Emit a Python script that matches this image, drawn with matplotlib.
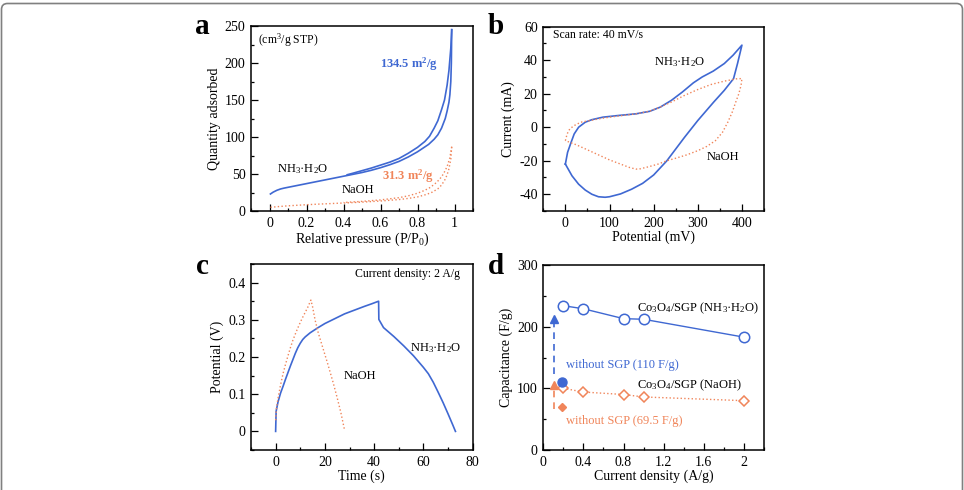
import matplotlib
matplotlib.use("Agg")
import matplotlib.pyplot as plt
from matplotlib.ticker import MultipleLocator, FormatStrFormatter
from matplotlib.patches import PathPatch
from matplotlib.path import Path

plt.rcParams['font.family'] = ['Liberation Serif', 'DejaVu Serif']
plt.rcParams['mathtext.fontset'] = 'custom'
plt.rcParams['mathtext.rm'] = 'Liberation Serif'
plt.rcParams['mathtext.it'] = 'Liberation Serif:italic'
plt.rcParams['mathtext.bf'] = 'Liberation Serif:bold'
plt.rcParams['axes.unicode_minus'] = True

BLUE = '#3f68d2'
ORANGE = '#f0855a'

# ---------------- data: panel a (isotherms) ----------------
a_nh3_ads_p = [0.005, 0.02, 0.04, 0.06, 0.08, 0.1, 0.15, 0.2, 0.25, 0.3, 0.35, 0.4, 0.45, 0.5, 0.55, 0.6, 0.65,
               0.7, 0.75, 0.8, 0.83, 0.86, 0.89, 0.91, 0.93, 0.95, 0.96, 0.97, 0.975, 0.98, 0.983, 0.985]
a_nh3_ads_q = [23, 25.5, 28, 29.8, 31, 32, 34.5, 37, 39.5, 42, 44.5, 47, 49.5, 52, 55, 58.5, 62.5,
               67, 73, 80, 85, 90, 97, 103, 112, 125, 135, 147, 157, 175, 200, 245]
a_nh3_des_p = [0.985, 0.98, 0.97, 0.96, 0.946, 0.93, 0.91, 0.89, 0.865, 0.84, 0.8, 0.75, 0.7, 0.65, 0.6,
               0.55, 0.5, 0.45, 0.42]
a_nh3_des_q = [245, 220, 190, 170, 150, 137, 122, 112, 101, 94, 86, 78, 71, 66, 62, 58, 54.5, 51, 49]
a_naoh_ads_p = [0.005, 0.05, 0.1, 0.2, 0.3, 0.4, 0.5, 0.6, 0.7, 0.75, 0.8, 0.85, 0.88, 0.91, 0.93, 0.95,
                0.96, 0.97, 0.98, 0.985]
a_naoh_ads_q = [5, 6, 7, 8.5, 9.7, 10.8, 12, 13.5, 15.5, 17, 19, 22.5, 25.5, 30, 35, 43, 49, 57, 70, 87]
a_naoh_des_p = [0.985, 0.975, 0.96, 0.94, 0.92, 0.9, 0.87, 0.84, 0.8, 0.75, 0.7, 0.6, 0.5, 0.4]
a_naoh_des_q = [87, 72, 60, 50, 43, 38, 32, 28, 24, 20.5, 18, 15, 13, 11.5]

# ---------------- data: panel b (CV) ----------------
b_nh3_v = [0, 5, 13, 20, 30, 45, 60, 85, 120, 160, 191, 215, 240, 265, 290, 310, 335, 360, 380, 400,
           390, 381, 360, 336, 300, 270, 250, 230, 200, 175, 150, 125, 100, 90, 75, 60, 45, 30, 15, 0]
b_nh3_i = [-22, -15, -9, -4, 0, 3, 4.5, 6, 7, 8, 9.5, 12, 16, 21, 26.5, 30, 33.5, 38, 43, 49,
           38, 29, 22, 15, 4, -6, -13, -20, -28.5, -33.5, -37, -39.8, -41.5, -41.8, -41.5, -40, -37.5,
           -34, -29, -22]
b_naoh_v = [0, 4, 10, 20, 35, 60, 80, 100, 130, 160, 190, 210, 240, 270, 300, 330, 360, 390, 400,
            398, 393, 386, 378, 368, 356, 340, 320, 300, 275, 250, 230, 210, 190, 170, 160, 145, 125,
            100, 75, 50, 25, 0]
b_naoh_i = [-8, -4, -1, 1, 3, 4.2, 5.2, 6, 7, 8, 9.5, 11.5, 15, 19, 22.5, 25.5, 27.5, 29, 29,
            25, 20, 15, 9, 3, -3, -8, -11.5, -14, -16.5, -18.5, -20, -22, -23.5, -24.8, -25, -24, -22,
            -19.5, -16.5, -13.5, -10.5, -8]

# ---------------- data: panel c (charge/discharge) ----------------
c_nh3_t = [0, 0.2, 1, 2, 3, 4, 5, 6, 7, 8, 9, 10, 11, 12, 14, 17, 20, 24, 28, 32, 36, 39, 41.8,
           41.9, 43.8, 48, 52, 56, 60, 62, 64, 66, 68, 70, 72, 73]
c_nh3_v = [0, 0.054, 0.08, 0.103, 0.121, 0.14, 0.158, 0.176, 0.193, 0.21, 0.225, 0.237, 0.247, 0.254,
           0.265, 0.278, 0.29, 0.303, 0.316, 0.326, 0.336, 0.343, 0.35,
           0.301, 0.279, 0.255, 0.23, 0.203, 0.172, 0.155, 0.132, 0.105, 0.077, 0.047, 0.016, 0]
c_naoh_t = [0, 0.3, 1, 2, 3, 4, 5, 6, 7, 8, 9, 10, 11, 12, 13, 14.3,
            15, 16, 17.3, 19, 21, 23.4, 25, 26.5, 27.9]
c_naoh_v = [0.03, 0.06, 0.09, 0.125, 0.155, 0.18, 0.203, 0.225, 0.245, 0.262, 0.278, 0.293, 0.307, 0.32,
            0.333, 0.353, 0.335, 0.3, 0.265, 0.228, 0.185, 0.13, 0.09, 0.05, 0.006]

# ---------------- data: panel d (capacitance) ----------------
d_density = [0.2, 0.4, 0.8, 1.0, 2.0]
d_cap_nh3 = [234, 229, 213, 212, 183]
d_cap_naoh = [100, 94, 90, 86, 80]
d_noSGP_density = [0.19]
d_noSGP_nh3 = [110]
d_noSGP_naoh = [69.5]
d_arrow_x = 0.11
d_arrow_nh3 = (124, 212)
d_arrow_naoh = (67, 106)

W, H = 964, 490
fig = plt.figure(figsize=(W / 100, H / 100), dpi=100)

# frame (rounded top corners, bottom outside the picture)
xl, xr, yt, r = 1.5, 962.5, 3.5, 6
pts = [(xl, 700), (xl, yt + r), (xl, yt), (xl + r, yt), (xr - r, yt), (xr, yt), (xr, yt + r), (xr, 700)]
codes = [Path.MOVETO, Path.LINETO, Path.CURVE3, Path.CURVE3, Path.LINETO, Path.CURVE3, Path.CURVE3, Path.LINETO]
fpath = Path([(x / W, 1 - y / H) for x, y in pts], codes)
fig.patches.append(PathPatch(fpath, transform=fig.transFigure, facecolor='none', edgecolor='#808080', lw=1.2))

TICK_FS = 10
LABEL_FS = 10
ANN_FS = 8.5


def style(ax, xmaj, xmin, ymaj, ymin, xfmt='%g', yfmt='%g'):
    ax.xaxis.set_major_locator(MultipleLocator(xmaj))
    ax.xaxis.set_minor_locator(MultipleLocator(xmin))
    ax.yaxis.set_major_locator(MultipleLocator(ymaj))
    ax.yaxis.set_minor_locator(MultipleLocator(ymin))
    ax.xaxis.set_major_formatter(FormatStrFormatter(xfmt))
    ax.yaxis.set_major_formatter(FormatStrFormatter(yfmt))
    ax.tick_params(which='both', direction='in', top=False, right=False, labelsize=TICK_FS, width=0.9)
    ax.tick_params(which='major', length=5, pad=4)
    ax.tick_params(which='minor', length=2.5)
    for s in ax.spines.values():
        s.set_linewidth(1.1)


# ---- panel a ----
ax = fig.add_axes([251 / W, 1 - 211 / H, 222 / W, 185 / H])
ax.plot(a_nh3_ads_p, a_nh3_ads_q, color=BLUE, lw=1.2)
ax.plot(a_nh3_des_p, a_nh3_des_q, color=BLUE, lw=1.2)
ax.plot(a_naoh_ads_p, a_naoh_ads_q, color=ORANGE, lw=1.0, ls=':')
ax.plot(a_naoh_des_p, a_naoh_des_q, color=ORANGE, lw=1.0, ls=':')
ax.set_xlim(-0.1, 1.1)
ax.set_ylim(0, 250)
style(ax, 0.2, 0.1, 50, 25)
ax.set_xlabel('Relative pressure (P/P$_0$)', fontsize=LABEL_FS, labelpad=1)
ax.set_ylabel('Quantity adsorbed', fontsize=LABEL_FS, labelpad=3)
ax.text(-0.06, 231, '(cm$^3$/g STP)', fontsize=ANN_FS, va='center', ha='left')
ax.text(0.595, 198, '134.5 m$^\\mathbf{2}$/g', fontsize=ANN_FS + 0.5, color=BLUE, fontweight='bold', va='center', ha='left')
ax.text(0.61, 47, '31.3 m$^\\mathbf{2}$/g', fontsize=ANN_FS + 0.5, color=ORANGE, fontweight='bold', va='center', ha='left')
ax.text(0.04, 56, 'NH$_3$·H$_2$O', fontsize=ANN_FS + 0.5, va='center', ha='left')
ax.text(0.39, 28, 'NaOH', fontsize=ANN_FS + 0.5, va='center', ha='left')
fig.text(202 / W, 1 - 27 / H, 'a', fontsize=21, fontweight='bold', ha='center', va='center')

# ---- panel b ----
ax = fig.add_axes([543.3 / W, 1 - 211 / H, 220.7 / W, 184.3 / H])
ax.plot(b_nh3_v, b_nh3_i, color=BLUE, lw=1.2)
ax.plot(b_naoh_v, b_naoh_i, color=ORANGE, lw=1.0, ls=':')
ax.set_xlim(-50, 450)
ax.set_ylim(-50, 60)
style(ax, 100, 50, 20, 10)
ax.set_xlabel('Potential (mV)', fontsize=LABEL_FS, labelpad=1)
ax.set_ylabel('Current (mA)', fontsize=LABEL_FS, labelpad=3)
ax.text(-27, 55, 'Scan rate: 40 mV/s', fontsize=ANN_FS, va='center', ha='left')
ax.text(200, 39, 'NH$_3$·H$_2$O', fontsize=ANN_FS + 0.5, va='center', ha='left')
ax.text(321, -17.5, 'NaOH', fontsize=ANN_FS + 0.5, va='center', ha='left')
fig.text(496 / W, 1 - 27 / H, 'b', fontsize=21, fontweight='bold', ha='center', va='center')

# ---- panel c ----
ax = fig.add_axes([251 / W, 1 - 450 / H, 221.7 / W, 186 / H])
ax.plot(c_nh3_t, c_nh3_v, color=BLUE, lw=1.2)
ax.plot(c_naoh_t, c_naoh_v, color=ORANGE, lw=1.0, ls=':')
ax.set_xlim(-10, 80)
ax.set_ylim(-0.05, 0.45)
style(ax, 20, 10, 0.1, 0.05)
ax.set_xlabel('Time (s)', fontsize=LABEL_FS, labelpad=1)
ax.set_ylabel('Potential (V)', fontsize=LABEL_FS, labelpad=3)
ax.text(75, 0.423, 'Current density: 2 A/g', fontsize=ANN_FS, va='center', ha='right')
ax.text(54.5, 0.223, 'NH$_3$·H$_2$O', fontsize=ANN_FS + 0.5, va='center', ha='left')
ax.text(27.8, 0.148, 'NaOH', fontsize=ANN_FS + 0.5, va='center', ha='left')
fig.text(202 / W, 1 - 266 / H, 'c', fontsize=21, fontweight='bold', ha='center', va='center')

# ---- panel d ----
ax = fig.add_axes([543.3 / W, 1 - 450 / H, 220.7 / W, 185 / H])
ax.plot(d_density, d_cap_nh3, color=BLUE, lw=1.0, marker='o', ms=7.5, mfc='white', mec=BLUE, mew=1.1)
ax.plot(d_density, d_cap_naoh, color=ORANGE, lw=1.0, ls=':', marker='D', ms=5.5, mfc='white', mec=ORANGE, mew=1.1)
ax.plot(d_noSGP_density, d_noSGP_nh3, ls='none', marker='o', ms=6.5, color=BLUE)
ax.plot(d_noSGP_density, d_noSGP_naoh, ls='none', marker='D', ms=4.5, color=ORANGE)
for (y0, y1), col in ((d_arrow_nh3, BLUE), (d_arrow_naoh, ORANGE)):
    ax.plot([d_arrow_x, d_arrow_x], [y0, y1 - 6], color=col, lw=1.2, ls=(0, (4, 3)))
    ax.plot([d_arrow_x], [y1], marker='^', ms=6, color=col, ls='none')
ax.set_xlim(0, 2.2)
ax.set_ylim(0, 300)
style(ax, 0.4, 0.2, 100, 50)
ax.set_xlabel('Current density (A/g)', fontsize=LABEL_FS, labelpad=1)
ax.set_ylabel('Capacitance (F/g)', fontsize=LABEL_FS, labelpad=3)
ax.text(0.935, 230, 'Co$_3$O$_4$/SGP (NH$_3$·H$_2$O)', fontsize=ANN_FS + 0.5, va='center', ha='left')
ax.text(0.935, 105, 'Co$_3$O$_4$/SGP (NaOH)', fontsize=ANN_FS + 0.5, va='center', ha='left')
ax.text(0.23, 138, 'without SGP (110 F/g)', fontsize=ANN_FS + 0.5, color=BLUE, va='center', ha='left')
ax.text(0.23, 47, 'without SGP (69.5 F/g)', fontsize=ANN_FS + 0.5, color=ORANGE, va='center', ha='left')
fig.text(496 / W, 1 - 267 / H, 'd', fontsize=21, fontweight='bold', ha='center', va='center')

fig.savefig('out.png', dpi=100)
